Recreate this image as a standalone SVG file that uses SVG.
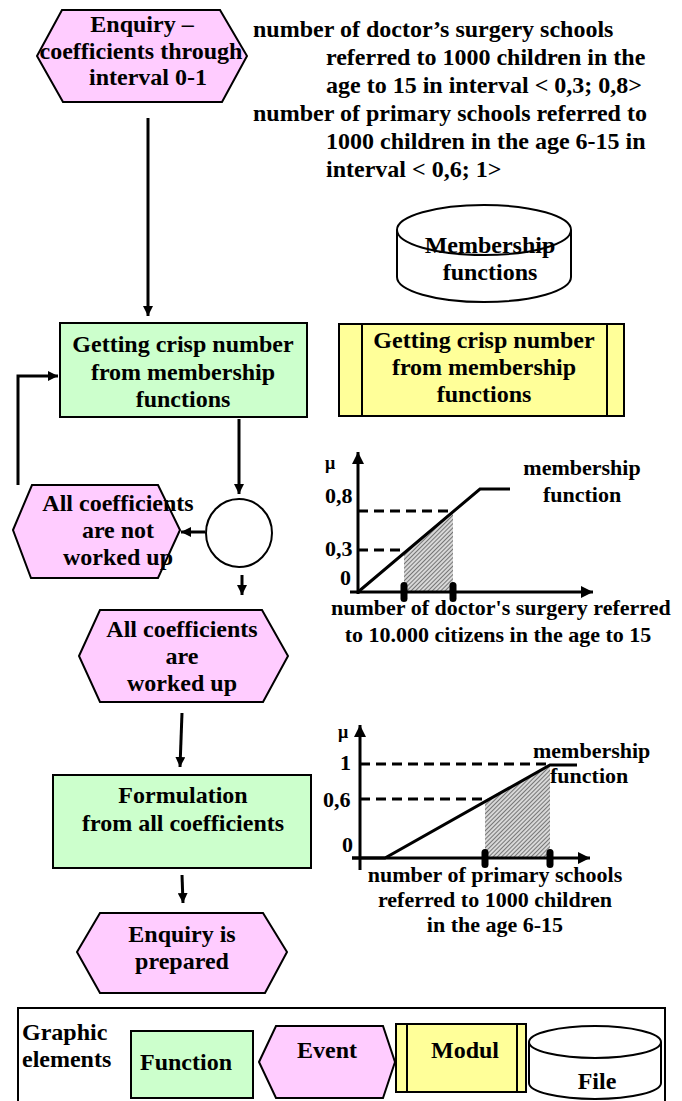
<svg xmlns="http://www.w3.org/2000/svg" width="682" height="1101" viewBox="0 0 682 1101">
<style>
text{font-family:"Liberation Serif","Times New Roman",serif;font-weight:bold;fill:#000}
.t24{font-size:24px}
.t22{font-size:22px}
.c{text-anchor:middle}
.ev{fill:#ffccff;stroke:#000;stroke-width:2}
.fn{fill:#ccffcc;stroke:#000;stroke-width:2}
.md{fill:#ffff99;stroke:#000;stroke-width:2}
.fl{fill:#fff;stroke:#000;stroke-width:2}
.ln{fill:none;stroke:#000;stroke-width:3}
.dash{fill:none;stroke:#000;stroke-width:3;stroke-dasharray:10 6}
.ax{fill:none;stroke:#000;stroke-width:3}
</style>
<defs>
<marker id="ah" viewBox="0 0 10 10" refX="10" refY="5" markerWidth="10" markerHeight="10" markerUnits="userSpaceOnUse" orient="auto">
<path d="M0,0 L10,5 L0,10 z" fill="#000"/>
</marker>
<marker id="ah2" viewBox="0 0 12 12" refX="12" refY="6" markerWidth="12" markerHeight="12" markerUnits="userSpaceOnUse" orient="auto">
<path d="M0,0 L12,6 L0,12 z" fill="#000"/>
</marker>
<pattern id="hatch" width="3" height="3" patternUnits="userSpaceOnUse" patternTransform="rotate(45)">
<rect width="3" height="3" fill="#d8d8d8"/>
<line x1="0" y1="0" x2="0" y2="3" stroke="#333" stroke-width="1.2"/>
</pattern>
</defs>

<g id="description">
<text class="t24" x="253" y="37">number of doctor’s surgery schools</text>
<text class="t24" x="326" y="65">referred to 1000 children in the</text>
<text class="t24" x="326" y="93">age to 15 in interval &lt; 0,3; 0,8&gt;</text>
<text class="t24" x="253" y="121">number of primary schools referred to</text>
<text class="t24" x="326" y="149">1000 children in the age 6-15 in</text>
<text class="t24" x="326" y="177">interval &lt; 0,6; 1&gt;</text>
</g>

<g id="connectors">
<line class="ln" x1="148" y1="118" x2="148" y2="316" marker-end="url(#ah)"/>
<polyline class="ln" points="18,485 18,376 58,376" marker-end="url(#ah)"/>
<line class="ln" x1="239" y1="419" x2="239" y2="494" marker-end="url(#ah)"/>
<line class="ln" x1="205" y1="532" x2="181" y2="532" marker-end="url(#ah)"/>
<line class="ln" x1="242" y1="575" x2="242" y2="595" marker-end="url(#ah)"/>
<line class="ln" x1="182" y1="713" x2="180" y2="767" marker-end="url(#ah)"/>
<line class="ln" x1="182" y1="875" x2="183" y2="903" marker-end="url(#ah)"/>
</g>

<g id="ev-enquiry">
<polygon class="ev" points="37,56 62,10 220,10 247,56 222,102 63,102"/>
<text class="t24 c" x="142" y="32">Enquiry –</text>
<text class="t24 c" x="141" y="59">coefficients through</text>
<text class="t24 c" x="148" y="85">interval 0-1</text>
</g>

<g id="file-membership">
<path class="fl" d="M397,230 L397,277 A87,25 0 0 0 571,277 L571,230"/>
<ellipse class="fl" cx="484" cy="230" rx="87" ry="25"/>
<text class="t24 c" x="490" y="253">Membership</text>
<text class="t24 c" x="490" y="280">functions</text>
</g>

<g id="fn-crisp">
<rect class="fn" x="60" y="323" width="247" height="94"/>
<text class="t24 c" x="183" y="352">Getting crisp number</text>
<text class="t24 c" x="183" y="380">from membership</text>
<text class="t24 c" x="183" y="407">functions</text>
</g>

<g id="mod-crisp">
<rect class="md" x="339" y="324" width="285" height="92"/>
<line x1="362" y1="324" x2="362" y2="416" stroke="#000" stroke-width="2"/>
<line x1="607" y1="324" x2="607" y2="416" stroke="#000" stroke-width="2"/>
<text class="t24 c" x="484" y="348">Getting crisp number</text>
<text class="t24 c" x="484" y="375">from membership</text>
<text class="t24 c" x="484" y="402">functions</text>
</g>

<g id="ev-not-worked">
<polygon class="ev" points="13,530 32,485 158,485 180,530 158,578 31,578"/>
<text class="t24 c" x="118" y="511">All coefficients</text>
<text class="t24 c" x="118" y="538">are not</text>
<text class="t24 c" x="118" y="565">worked up</text>
</g>

<g id="connector-xor">
<ellipse cx="239" cy="533" rx="33" ry="34" fill="#fff" stroke="#000" stroke-width="2"/>
</g>

<g id="ev-worked">
<polygon class="ev" points="79,656 100,610 262,610 288,656 263,702 100,702"/>
<text class="t24 c" x="182" y="637">All coefficients</text>
<text class="t24 c" x="182" y="664">are</text>
<text class="t24 c" x="182" y="691">worked up</text>
</g>

<g id="fn-formulation">
<rect class="fn" x="53" y="775" width="258" height="93"/>
<text class="t24 c" x="183" y="803">Formulation</text>
<text class="t24 c" x="183" y="831">from all coefficients</text>
</g>

<g id="ev-prepared">
<polygon class="ev" points="77,952 100,913 263,913 287,952 265,993 100,993"/>
<text class="t24 c" x="182" y="942">Enquiry is</text>
<text class="t24 c" x="182" y="969">prepared</text>
</g>

<g id="chart1">
<polygon points="404,553 453,511 453,592 404,592" fill="url(#hatch)"/>
<line class="dash" x1="358" y1="511" x2="453" y2="511"/>
<line class="dash" x1="358" y1="550" x2="402" y2="550"/>
<line class="ax" x1="358" y1="594" x2="358" y2="452" marker-end="url(#ah2)"/>
<line class="ax" x1="350" y1="592" x2="593" y2="592" marker-end="url(#ah2)"/>
<polyline class="ln" points="358,592 480,489 510,489"/>
<rect x="400.5" y="582" width="7" height="20" rx="3.5" fill="#000"/>
<rect x="449.5" y="582" width="7" height="20" rx="3.5" fill="#000"/>
<text x="325" y="469" style="font-size:18px">μ</text>
<text class="t22" x="325" y="503">0,8</text>
<text class="t22" x="325" y="556">0,3</text>
<text class="t22" x="340" y="585">0</text>
<text class="t22 c" x="582" y="475">membership</text>
<text class="t22 c" x="582" y="502">function</text>
<text class="t22" x="331" y="615">number of doctor's surgery referred</text>
<text class="t22 c" x="498" y="642">to 10.000 citizens in the age to 15</text>
</g>

<g id="chart2">
<polygon points="485,800 550,765 550,858 485,858" fill="url(#hatch)"/>
<line class="dash" x1="360" y1="764" x2="550" y2="764"/>
<line class="dash" x1="360" y1="799" x2="485" y2="799"/>
<line class="ax" x1="360" y1="870" x2="360" y2="725" marker-end="url(#ah2)"/>
<line class="ax" x1="352" y1="858" x2="590" y2="858" marker-end="url(#ah2)"/>
<polyline class="ln" points="352,858 385,858 550,765 577,765"/>
<rect x="481.5" y="849" width="7" height="19" rx="3.5" fill="#000"/>
<rect x="546.5" y="849" width="7" height="19" rx="3.5" fill="#000"/>
<text x="338" y="738" style="font-size:18px">μ</text>
<text class="t22" x="340" y="770">1</text>
<text class="t22" x="323" y="807">0,6</text>
<text class="t22" x="342" y="852">0</text>
<text class="t22" x="533" y="758">membership</text>
<text class="t22" x="550" y="783">function</text>
<text class="t22 c" x="495" y="882">number of primary schools</text>
<text class="t22 c" x="495" y="907">referred to 1000 children</text>
<text class="t22 c" x="495" y="932">in the age 6-15</text>
</g>

<g id="legend">
<rect x="18" y="1008" width="647" height="100" fill="#fff" stroke="#000" stroke-width="2"/>
<text class="t24" x="22" y="1040">Graphic</text>
<text class="t24" x="22" y="1067">elements</text>
</g>
<g id="legend-function">
<rect class="fn" x="131" y="1031" width="122" height="67"/>
<text class="t24 c" x="186" y="1070">Function</text>
</g>
<g id="legend-event">
<polygon class="ev" points="259,1062 276,1026 383,1026 395,1062 383,1098 276,1098"/>
<text class="t24 c" x="327" y="1058">Event</text>
</g>
<g id="legend-modul">
<rect class="md" x="396" y="1024" width="130" height="68"/>
<line x1="407" y1="1024" x2="407" y2="1092" stroke="#000" stroke-width="2"/>
<line x1="517" y1="1024" x2="517" y2="1092" stroke="#000" stroke-width="2"/>
<text class="t24 c" x="465" y="1058">Modul</text>
</g>
<g id="legend-file">
<path class="fl" d="M529,1042 L529,1083 A66,16 0 0 0 661,1083 L661,1042"/>
<ellipse class="fl" cx="595" cy="1042" rx="66" ry="16"/>
<text class="t24 c" x="597" y="1089">File</text>
</g>
</svg>
